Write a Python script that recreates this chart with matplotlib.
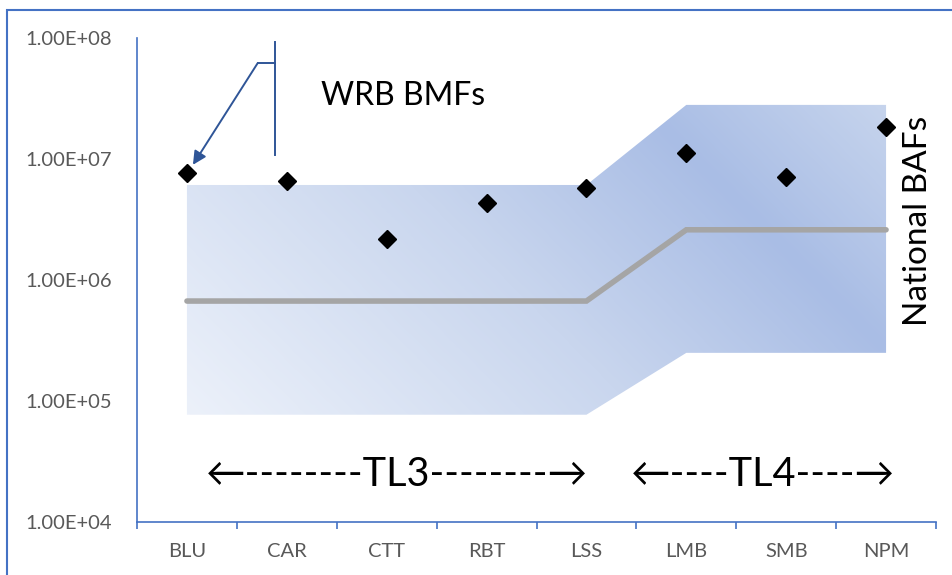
import matplotlib
matplotlib.use("Agg")
import matplotlib.pyplot as plt
import numpy as np
from matplotlib.colors import LinearSegmentedColormap
from matplotlib.patches import Rectangle
from matplotlib.ticker import FixedLocator, FuncFormatter

plt.rcParams['font.family'] = ['Lato', 'DejaVu Sans']

species = ['BLU', 'CAR', 'CTT', 'RBT', 'LSS', 'LMB', 'SMB', 'NPM']
wrb_bmf = [7.7e6, 6.6e6, 2.2e6, 4.3e6, 5.8e6, 1.12e7, 7.1e6, 1.84e7]
national_baf = [6.7e5, 6.7e5, 6.7e5, 6.7e5, 6.7e5, 2.6e6, 2.6e6, 2.6e6]
baf_upper = [6.1e6, 6.1e6, 6.1e6, 6.1e6, 6.1e6, 2.8e7, 2.8e7, 2.8e7]
baf_lower = [7.7e4, 7.7e4, 7.7e4, 7.7e4, 7.7e4, 2.5e5, 2.5e5, 2.5e5]

blue = '#4472C4'
grey_txt = '#595959'

fig = plt.figure(figsize=(9.52, 5.75), dpi=100)
ax = fig.add_axes([137 / 952, 53 / 575, 799 / 952, 484 / 575])
x = np.arange(len(species))

ax.set_yscale('log')
ax.set_ylim(1e4, 1e8)
ax.set_xlim(-0.5, len(species) - 0.5)

# shaded band with a diagonal gradient, clipped to the fill polygon
band = ax.fill_between(x, baf_lower, baf_upper, facecolor='none', edgecolor='none')
fig.canvas.draw()
pts = ax.transData.transform(np.column_stack([[x[0], x[-1]], [min(baf_lower), max(baf_upper)]]))
ax_bb = ax.get_window_extent()
nx, ny = 800, 500
gx = np.linspace(ax_bb.x0, ax_bb.x1, nx)
gy = np.linspace(ax_bb.y0, ax_bb.y1, ny)
GX, GY = np.meshgrid(gx, gy)
s = ((GX - pts[0, 0]) + (GY - pts[0, 1])) / ((pts[1, 0] - pts[0, 0]) + (pts[1, 1] - pts[0, 1]))
s = np.clip(s, 0, 1)
cmap = LinearSegmentedColormap.from_list(
    'band', [(0, '#ecf1fa'), (0.45, '#c9d6ee'), (0.76, '#a9bde5'), (1.0, '#c6d4ed')])
img = ax.imshow(s, cmap=cmap, vmin=0, vmax=1, extent=(0, 1, 0, 1), origin='lower',
                transform=ax.transAxes, aspect='auto', interpolation='bilinear', zorder=1)
img.set_clip_path(band.get_paths()[0], transform=ax.transData)

ax.plot(x, national_baf, color='#A5A5A5', lw=4, solid_capstyle='round',
        solid_joinstyle='miter', zorder=3)
ax.plot(x, wrb_bmf, ls='none', marker='D', ms=9.5, color='black', zorder=4)

# callout for WRB BMFs
ax.plot([0.173, 0.173], [0.992, 0.758], transform=ax.transAxes, color='#2F5597', lw=1.4, zorder=5)
ax.plot([0.173, 0.151], [0.948, 0.948], transform=ax.transAxes, color='#2F5597', lw=1.4, zorder=5)
ax.annotate('', xy=(0.070, 0.738), xytext=(0.151, 0.948), xycoords='axes fraction',
            arrowprops=dict(arrowstyle='-|>', color='#2F5597', lw=1.4, mutation_scale=20,
                            shrinkA=0, shrinkB=0), zorder=5)

ax.text(1.34, 3.3e7, 'WRB BMFs', fontsize=23, ha='left', va='center', color='black')
ax.text(7.32, 3.07e6, 'National BAFs', fontsize=24, ha='center', va='center',
        rotation=90, color='black')
ax.text(2.1, 2.45e4, '\u2190--------TL3--------\u2192', fontsize=28.5, ha='center',
        va='center', color='black')
ax.text(5.77, 2.45e4, '\u2190----TL4----\u2192', fontsize=28.5, ha='center',
        va='center', color='black')

# axes styling
for side in ['top', 'right']:
    ax.spines[side].set_visible(False)
for side in ['left', 'bottom']:
    ax.spines[side].set_color(blue)
    ax.spines[side].set_linewidth(1.2)

ax.set_xticks(x)
ax.set_xticklabels(species)
ax.xaxis.set_minor_locator(FixedLocator(np.arange(-0.5, len(species), 1.0)))
ax.tick_params(axis='x', which='major', length=0, pad=15, labelsize=14.5, labelcolor=grey_txt)
ax.tick_params(axis='x', which='minor', length=5, width=1.2, color=blue, direction='out')
ax.yaxis.set_major_locator(FixedLocator([1e4, 1e5, 1e6, 1e7, 1e8]))
ax.yaxis.set_minor_locator(FixedLocator([]))
ax.yaxis.set_major_formatter(FuncFormatter(lambda v, p: '1.00E+%02d' % int(round(np.log10(v)))))
ax.tick_params(axis='y', which='major', length=0, pad=18, labelsize=14.5, labelcolor=grey_txt)

# outer frame of the chart area
fig.patches.append(Rectangle((7 / 952, -0.1), 1.2, 1 - 10 / 575 + 0.1, transform=fig.transFigure,
                             fill=False, edgecolor=blue, lw=1.5, zorder=10))

fig.savefig('out.png', dpi=100)
